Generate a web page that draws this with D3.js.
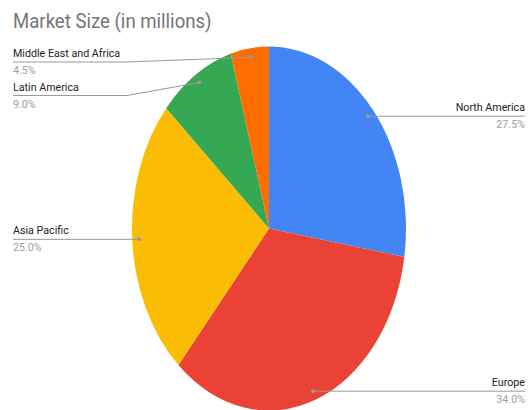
<!DOCTYPE html>
<html>
<head>
<meta charset="utf-8">
<script src="https://cdn.jsdelivr.net/npm/d3@7"></script>
<style>
  html, body { margin: 0; padding: 0; background: #fff; }
  svg { display: block; }
  text { font-family: Roboto, "Liberation Sans", Arial, sans-serif; }
</style>
</head>
<body>
<svg id="chart" width="531" height="410"></svg>
<script>
// Market share by region (share of total, in percent)
const regions = ["North America", "Europe", "Asia Pacific", "Latin America", "Middle East and Africa"];
const shares = [27.5, 34.0, 25.0, 9.0, 4.5];
const colors = ["#4285F4", "#EA4335", "#FBBC04", "#34A853", "#FF6D01"];
const title = "Market Size (in millions)";

const width = 531, height = 410;
const cx = 269, cy = 228.5;
const ry = 182, rx = 137;          // slightly oval pie
const sx = rx / ry;
const textSX = 0.93;               // narrow text rendering

const svg = d3.select("#chart");

// text drawn with a slight horizontal squeeze, anchored at (x, y)
function addText(parent, x, y, str, size, fill, anchor) {
  return parent.append("text")
    .attr("transform", `translate(${x},${y}) scale(${textSX},1)`)
    .attr("text-anchor", anchor || "start")
    .attr("font-size", size)
    .attr("fill", fill)
    .text(str);
}

addText(svg, 13, 27.5, title, 20, "#757575");

const data = regions.map((r, i) => ({ region: r, value: shares[i], color: colors[i] }));

const pie = d3.pie().sort(null).value(d => d.value);
const arcs = pie(data);
const arc = d3.arc().innerRadius(0).outerRadius(ry);

const pieG = svg.append("g")
  .attr("transform", `translate(${cx},${cy}) scale(${sx},1)`);

pieG.selectAll("path")
  .data(arcs)
  .join("path")
  .attr("d", arc)
  .attr("fill", d => d.data.color);

// anchor point for each leader line, inside the slice near the rim
const anchor = d => {
  const a = (d.startAngle + d.endAngle) / 2;
  return [cx + Math.sin(a) * ry * 0.95 * sx, cy - Math.cos(a) * ry * 0.95];
};

const labels = arcs.map(d => {
  const [x, y] = anchor(d);
  return { d, x, y, side: x > cx ? "right" : "left", lineY: y };
});

// keep labels on each side from overlapping, stacking from the top
const minGap = 33.5, topLimit = 62;
["left", "right"].forEach(side => {
  const group = labels.filter(l => l.side === side).sort((a, b) => a.y - b.y);
  let prev = -Infinity;
  group.forEach(l => {
    l.lineY = Math.max(l.y, topLimit, prev + minGap);
    prev = l.lineY;
  });
});

const leftX = 13, rightX = 525, elbowX = 127;
const fmt = d3.format(".1f");

const lg = svg.append("g");
labels.forEach(l => {
  const pts = l.side === "left"
    ? (Math.abs(l.lineY - l.y) > 0.5
        ? [[leftX, l.lineY], [elbowX, l.lineY], [l.x, l.y]]
        : [[leftX, l.lineY], [l.x, l.y]])
    : [[l.x, l.y], [rightX, l.lineY]];
  lg.append("path")
    .attr("d", d3.line()(pts))
    .attr("fill", "none")
    .attr("stroke", "#999")
    .attr("stroke-width", 1);
  lg.append("circle")
    .attr("cx", l.x).attr("cy", l.y).attr("r", 2)
    .attr("fill", "#999");

  const tx = l.side === "left" ? leftX : rightX;
  const anchorPos = l.side === "left" ? "start" : "end";
  addText(lg, tx, l.lineY - 5, l.d.data.region, 11.5, "#222", anchorPos);
  addText(lg, tx, l.lineY + 12, fmt(l.d.data.value) + "%", 11.5, "#9e9e9e", anchorPos);
});
</script>
</body>
</html>
